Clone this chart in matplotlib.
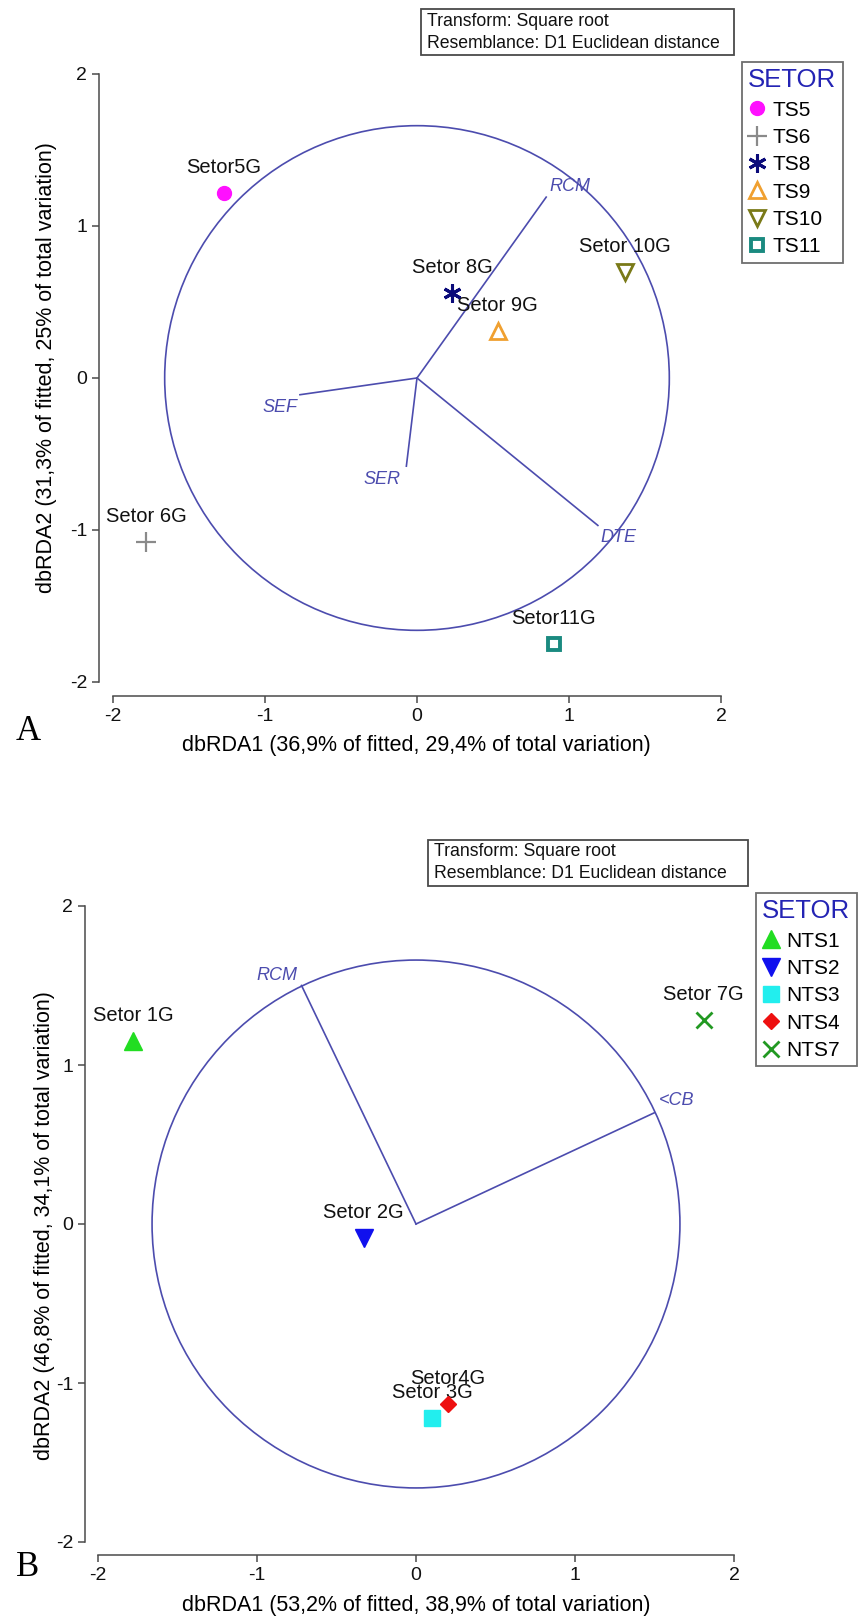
import matplotlib
matplotlib.use("Agg")
import matplotlib.pyplot as plt
from matplotlib.patches import Circle, Rectangle
from matplotlib.lines import Line2D

plt.rcParams['font.family'] = ['Liberation Sans', 'DejaVu Sans']

W, H = 861, 1622
DPI = 100

# --- panel A: sectors TS ---
a_groups = ["TS5", "TS6", "TS8", "TS9", "TS10", "TS11"]
a_labels = ["Setor5G", "Setor 6G", "Setor 8G", "Setor 9G", "Setor 10G", "Setor11G"]
a_x = [-1.27, -1.78, 0.23, 0.53, 1.37, 0.90]
a_y = [1.22, -1.08, 0.56, 0.31, 0.70, -1.75]
a_vec_names = ["RCM", "SEF", "SER", "DTE"]
a_vec_x = [0.85, -0.77, -0.07, 1.19]
a_vec_y = [1.19, -0.11, -0.58, -0.97]
a_radius = 1.66
a_xlabel = "dbRDA1 (36,9% of fitted, 29,4% of total variation)"
a_ylabel = "dbRDA2 (31,3% of fitted, 25% of total variation)"

# --- panel B: sectors NTS ---
b_groups = ["NTS1", "NTS2", "NTS3", "NTS4", "NTS7"]
b_labels = ["Setor 1G", "Setor 2G", "Setor 3G", "Setor4G", "Setor 7G"]
b_x = [-1.78, -0.33, 0.10, 0.20, 1.81]
b_y = [1.15, -0.09, -1.22, -1.13, 1.28]
b_vec_names = ["RCM", "<CB"]
b_vec_x = [-0.72, 1.50]
b_vec_y = [1.50, 0.70]
b_radius = 1.66
b_xlabel = "dbRDA1 (53,2% of fitted, 38,9% of total variation)"
b_ylabel = "dbRDA2 (46,8% of fitted, 34,1% of total variation)"

ticks = [-2, -1, 0, 1, 2]
info_lines = ["Transform: Square root", "Resemblance: D1 Euclidean distance"]

VEC_COLOR = "#4c4cae"
AXIS_COLOR = "#4a4a4a"
TITLE_BLUE = "#2424b4"

styles = {
    "TS5":  dict(marker="o", color="#ff10ff", filled=True,  ms=10, mew=1),
    "TS6":  dict(marker="+", color="#8a8a8a", filled=True,  ms=14, mew=1.6),
    "TS8":  dict(marker=(6, 2, 0), color="#0b0b7a", filled=True, ms=13, mew=2.2),
    "TS9":  dict(marker="^", color="#f0a030", filled=False, ms=11, mew=2),
    "TS10": dict(marker="v", color="#7a7a18", filled=False, ms=11, mew=2),
    "TS11": dict(marker="s", color="#1a8a80", filled=False, ms=8.5, mew=2.8),
    "NTS1": dict(marker="^", color="#22dd22", filled=True,  ms=13, mew=1),
    "NTS2": dict(marker="v", color="#1010ee", filled=True,  ms=13, mew=1),
    "NTS3": dict(marker="s", color="#22eeee", filled=True,  ms=11, mew=1),
    "NTS4": dict(marker="D", color="#ee1010", filled=True,  ms=8.5, mew=1),
    "NTS7": dict(marker="x", color="#229922", filled=True,  ms=11, mew=2),
}

# (dx, dy) in points from the vector tip, ha
a_vec_pos = {"RCM": (2, 4.5, "left"), "SEF": (-2, -12.5, "right"),
             "SER": (-4, -13, "right"), "DTE": (2, -12, "left")}
b_vec_pos = {"RCM": (-3, 4, "right"), "<CB": (3, 5.4, "left")}


def fx(px):
    return px / W


def fy(py):
    return 1 - py / H


def px_axes(fig, x0, x1, y0, y1):
    return fig.add_axes([fx(x0), fy(y1), (x1 - x0) / W, (y1 - y0) / H])


def marker_kw(st):
    kw = dict(marker=st["marker"], ms=st["ms"], mew=st["mew"], linestyle="none",
              color=st["color"], mec=st["color"])
    kw["mfc"] = st["color"] if st["filled"] else "none"
    return kw


def draw_panel(ax, groups, labels, xs, ys, vnames, vx, vy, vpos, radius, spine_off):
    ax.add_patch(Circle((0, 0), radius, fill=False, ec=VEC_COLOR, lw=1.2))
    for name, x, y in zip(vnames, vx, vy):
        ax.plot([0, x], [0, y], color=VEC_COLOR, lw=1.2)
        dx, dy, ha = vpos[name]
        ax.annotate(name, (x, y), xytext=(dx, dy), textcoords="offset points",
                    ha=ha, va="baseline", fontsize=13, style="italic",
                    color=VEC_COLOR)
    for g, lab, x, y in zip(groups, labels, xs, ys):
        ax.plot([x], [y], **marker_kw(styles[g]), clip_on=False, zorder=5)
        ax.annotate(lab, (x, y), xytext=(0, 14.4), textcoords="offset points",
                    ha="center", va="baseline", fontsize=14.5, color="#111111")
    ax.set_xlim(-2, 2)
    ax.set_ylim(-2, 2)
    ax.set_xticks(ticks)
    ax.set_yticks(ticks)
    ax.set_xticklabels([str(t) for t in ticks])
    ax.set_yticklabels([str(t) for t in ticks])
    for s in ("top", "right"):
        ax.spines[s].set_visible(False)
    for s in ("left", "bottom"):
        ax.spines[s].set_position(("outward", spine_off))
        ax.spines[s].set_color(AXIS_COLOR)
        ax.spines[s].set_linewidth(1.1)
        ax.spines[s].set_bounds(-2, 2)
    ax.tick_params(direction="out", length=5, width=1.1, color=AXIS_COLOR,
                   labelsize=14, labelcolor="#111111", pad=3.5)
    ax.patch.set_alpha(0)


def draw_legend(fig, groups, x_left, y_top):
    handles = [Line2D([], [], **marker_kw(styles[g])) for g in groups]
    leg = fig.legend(handles, groups, title="SETOR", loc="upper left",
                     bbox_to_anchor=(fx(x_left), fy(y_top)), frameon=True,
                     fancybox=False, edgecolor=AXIS_COLOR, fontsize=15,
                     title_fontsize=18.5, handlelength=0.8, handletextpad=0.35,
                     borderpad=0.3, labelspacing=0.4, borderaxespad=0,
                     alignment="left", markerscale=1.0)
    leg.get_title().set_color(TITLE_BLUE)
    leg.get_frame().set_linewidth(1.3)


def draw_info(fig, x0, x1, y0, y1, line_y):
    fig.add_artist(Rectangle((fx(x0), fy(y1)), (x1 - x0) / W, (y1 - y0) / H,
                             transform=fig.transFigure, fill=True, fc="white",
                             ec=AXIS_COLOR, lw=1.3))
    for txt, ly in zip(info_lines, line_y):
        fig.text(fx(x0 + 6), fy(ly), txt, ha="left", va="center",
                 fontsize=12.7, color="#111111")


fig = plt.figure(figsize=(W / DPI, H / DPI), dpi=DPI)
fig.patch.set_facecolor("white")

# panel A
axA = px_axes(fig, 113, 721, 74, 682)
draw_panel(axA, a_groups, a_labels, a_x, a_y, a_vec_names, a_vec_x, a_vec_y,
           a_vec_pos, a_radius, 10)
draw_info(fig, 421, 734, 9, 55, [21, 43])
draw_legend(fig, a_groups, 742, 62)
fig.text(fx(416), fy(745), a_xlabel, ha="center", va="center", fontsize=15.5)
fig.text(fx(47), fy(368), a_ylabel, ha="center", va="center", fontsize=15.5,
         rotation=90)
fig.text(fx(28), fy(731), "A", ha="center", va="center", fontsize=25,
         family="Liberation Serif")

# panel B
axB = px_axes(fig, 98, 734, 906, 1542)
draw_panel(axB, b_groups, b_labels, b_x, b_y, b_vec_names, b_vec_x, b_vec_y,
           b_vec_pos, b_radius, 9.4)
draw_info(fig, 428, 748, 840, 886, [851, 873])
draw_legend(fig, b_groups, 756, 893)
fig.text(fx(416), fy(1605), b_xlabel, ha="center", va="center", fontsize=15.5)
fig.text(fx(45), fy(1226), b_ylabel, ha="center", va="center", fontsize=15.5,
         rotation=90)
fig.text(fx(28), fy(1568), "B", ha="center", va="center", fontsize=25,
         family="Liberation Serif")

fig.savefig("out.png", dpi=DPI, facecolor="white")
